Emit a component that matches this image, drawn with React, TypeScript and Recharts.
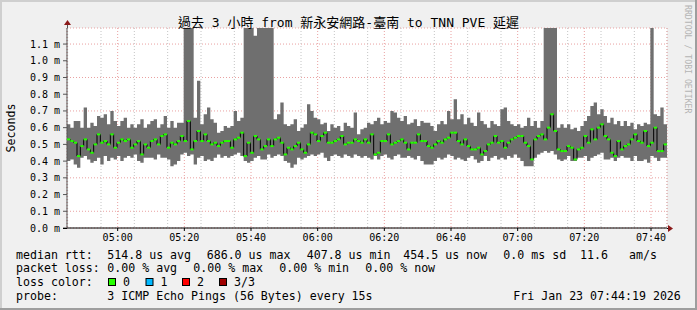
import { ComposedChart, Area, Line, XAxis, YAxis, CartesianGrid } from 'recharts';

// one sample per minute, starting 04:44:48 (minutes since midnight)
const START_MIN = 284.8;
const END_MIN = 464.8;

// median rtt (ms)
const MEDIAN = [
  0.53, 0.52, 0.51, 0.43, 0.49, 0.53, 0.47, 0.45, 0.50, 0.56,
  0.51, 0.52, 0.50, 0.56, 0.48, 0.51, 0.53, 0.52, 0.53, 0.48,
  0.50, 0.52, 0.44, 0.50, 0.48, 0.52, 0.53, 0.50, 0.55, 0.56,
  0.48, 0.51, 0.50, 0.52, 0.55, 0.52, 0.64, 0.47, 0.52, 0.58,
  0.52, 0.56, 0.52, 0.50, 0.51, 0.49, 0.51, 0.52, 0.52, 0.48,
  0.53, 0.54, 0.57, 0.43, 0.51, 0.45, 0.55, 0.53, 0.47, 0.49,
  0.53, 0.49, 0.53, 0.54, 0.51, 0.44, 0.48, 0.47, 0.49, 0.51,
  0.47, 0.45, 0.50, 0.57, 0.56, 0.52, 0.55, 0.57, 0.51, 0.51,
  0.52, 0.53, 0.55, 0.50, 0.51, 0.51, 0.53, 0.52, 0.51, 0.53,
  0.51, 0.56, 0.44, 0.45, 0.52, 0.52, 0.56, 0.50, 0.51, 0.52,
  0.53, 0.51, 0.47, 0.51, 0.51, 0.56, 0.52, 0.52, 0.49, 0.48,
  0.50, 0.52, 0.51, 0.53, 0.54, 0.57, 0.57, 0.52, 0.50, 0.53,
  0.49, 0.47, 0.47, 0.48, 0.44, 0.46, 0.50, 0.51, 0.55, 0.51,
  0.52, 0.48, 0.51, 0.53, 0.54, 0.55, 0.55, 0.51, 0.49, 0.41,
  0.53, 0.55, 0.56, 0.53, 0.60, 0.68, 0.58, 0.47, 0.46, 0.46,
  0.49, 0.48, 0.41, 0.47, 0.48, 0.55, 0.51, 0.59, 0.53, 0.60,
  0.62, 0.55, 0.53, 0.45, 0.43, 0.52, 0.47, 0.49, 0.50, 0.53,
  0.56, 0.52, 0.51, 0.58, 0.49, 0.51, 0.60, 0.46, 0.46, 0.50,
];

// top of the smoke (max ping, ms)
const HIGH = [
  0.62, 0.60, 0.64, 0.64, 0.60, 0.72, 0.60, 0.63, 0.61, 0.67,
  0.66, 0.68, 0.62, 0.70, 0.64, 0.61, 0.64, 0.66, 0.60, 0.62,
  0.60, 0.62, 0.65, 0.60, 0.62, 0.64, 0.65, 0.60, 0.62, 0.67,
  0.60, 0.64, 0.60, 0.63, 0.63, 1.30, 1.30, 1.30, 0.66, 0.88,
  0.62, 0.68, 0.72, 0.65, 0.63, 0.57, 0.58, 0.61, 0.60, 0.61,
  0.70, 0.64, 0.66, 1.30, 1.30, 1.30, 1.15, 1.30, 1.30, 1.30,
  1.30, 1.30, 0.65, 0.68, 0.75, 0.62, 0.61, 0.62, 0.65, 0.58,
  0.60, 0.62, 0.74, 0.70, 0.66, 0.65, 0.62, 0.63, 0.58, 0.62,
  0.60, 0.61, 0.58, 0.63, 0.61, 0.60, 0.69, 0.56, 0.59, 0.60,
  0.63, 0.62, 0.64, 0.66, 0.62, 0.64, 0.63, 0.70, 0.69, 0.66,
  0.64, 0.67, 0.62, 0.63, 0.65, 0.61, 0.64, 0.63, 0.63, 0.61,
  0.58, 0.62, 0.64, 0.62, 0.70, 0.65, 0.77, 0.65, 0.68, 0.62,
  0.66, 0.63, 0.61, 0.69, 0.64, 0.62, 0.60, 0.64, 0.62, 0.61,
  0.71, 0.72, 0.64, 0.62, 0.61, 0.62, 0.60, 0.61, 0.66, 0.61,
  0.64, 0.60, 0.64, 1.30, 1.30, 1.30, 1.30, 0.60, 0.62, 0.60,
  0.62, 0.59, 0.60, 0.58, 0.61, 0.64, 0.67, 0.73, 0.75, 0.68,
  0.71, 0.67, 0.63, 0.66, 0.62, 0.64, 0.61, 0.64, 0.61, 0.63,
  0.59, 0.62, 0.61, 0.63, 0.62, 1.30, 0.68, 0.67, 0.72, 0.62,
];

// bottom of the smoke (min ping, ms)
const LOW = [
  0.40, 0.41, 0.38, 0.36, 0.42, 0.43, 0.41, 0.39, 0.40, 0.42,
  0.38, 0.43, 0.40, 0.42, 0.41, 0.43, 0.40, 0.42, 0.43, 0.42,
  0.44, 0.40, 0.39, 0.42, 0.42, 0.42, 0.41, 0.44, 0.42, 0.42,
  0.41, 0.37, 0.38, 0.40, 0.44, 0.45, 0.43, 0.44, 0.38, 0.42,
  0.43, 0.40, 0.41, 0.40, 0.42, 0.44, 0.42, 0.43, 0.42, 0.43,
  0.44, 0.45, 0.43, 0.40, 0.39, 0.40, 0.42, 0.43, 0.41, 0.41,
  0.44, 0.42, 0.43, 0.44, 0.43, 0.40, 0.39, 0.36, 0.38, 0.42,
  0.41, 0.42, 0.43, 0.44, 0.43, 0.44, 0.45, 0.42, 0.40, 0.43,
  0.44, 0.43, 0.42, 0.44, 0.43, 0.42, 0.44, 0.43, 0.42, 0.43,
  0.42, 0.41, 0.43, 0.41, 0.43, 0.44, 0.42, 0.41, 0.43, 0.44,
  0.42, 0.42, 0.43, 0.42, 0.41, 0.43, 0.40, 0.38, 0.38, 0.38,
  0.40, 0.42, 0.41, 0.42, 0.44, 0.43, 0.41, 0.42, 0.41, 0.40,
  0.42, 0.43, 0.41, 0.39, 0.40, 0.43, 0.40, 0.42, 0.43, 0.41,
  0.42, 0.41, 0.43, 0.42, 0.44, 0.42, 0.40, 0.37, 0.37, 0.37,
  0.42, 0.44, 0.45, 0.46, 0.45, 0.46, 0.44, 0.41, 0.40, 0.41,
  0.43, 0.40, 0.40, 0.42, 0.42, 0.43, 0.40, 0.42, 0.43, 0.44,
  0.45, 0.41, 0.41, 0.42, 0.40, 0.42, 0.43, 0.42, 0.42, 0.40,
  0.43, 0.40, 0.40, 0.41, 0.39, 0.43, 0.42, 0.40, 0.42, 0.42,
];

const TIME_TICKS = [300, 320, 340, 360, 380, 400, 420, 440, 460];
const Y_TICKS = [0, 0.1, 0.2, 0.3, 0.4, 0.5, 0.6, 0.7, 0.8, 0.9, 1.0, 1.1];
const Y_MAX = 1.196;

const TITLE = '過去 3 小時 from 新永安網路-臺南 to TNN PVE 延遲';
const RTT_STATS = ['514.8 us avg', '686.0 us max', '407.8 us min', '454.5 us now', '0.0 ms sd', '11.6', 'am/s'];
const LOSS_STATS = ['0.00 % avg', '0.00 % max', '0.00 % min', '0.00 % now'];
const LOSS_LABELS = ['0', '1', '2', '3/3'];
const LOSS_COLORS = ['#26ff00', '#00b8ff', '#ff0000', '#a00000'];
const PROBE = '3 ICMP Echo Pings (56 Bytes) every 15s';
const STAMP = 'Fri Jan 23 07:44:19 2026';

const minorTicks: number[] = [];
for (let m = 285; m <= 460; m += 5) if (m % 20 !== 0) minorTicks.push(m);

const rows: any[] = MEDIAN.map((m, i) => ({ t: START_MIN + i, smoke: [LOW[i], HIGH[i]], median: m }));
rows.push({ ...rows[rows.length - 1], t: END_MIN, end: true });

const fmtTime = (v: number) => {
  const h = Math.floor(v / 60);
  const m = Math.round(v - h * 60);
  return `${String(h).padStart(2, '0')}:${String(m).padStart(2, '0')}`;
};

const MONO = "'DejaVu Sans Mono', monospace";

const MedianDot = (props: any) => {
  const { cx, cy, payload, index } = props;
  if (payload?.end || cx == null || cy == null) return <g key={index} />;
  return <rect key={index} x={cx} y={cy - 1} width={3.34} height={2} fill="#26ff00" />;
};

export default function App() {
  const t = { fontFamily: MONO, fontSize: 11.6, fill: '#000' };
  const rttX = [107.3, 206.7, 306.7, 403.3, 503.3, 580, 629];
  const lossX = [107.3, 193.3, 279.3, 365.3];
  const boxX = [108, 145.5, 182, 219];

  return (
    <div style={{ position: 'absolute', left: 0, top: 0, width: 697, height: 310, background: '#f0f0f0' }}>
      <div style={{ position: 'absolute', left: 0, top: 0 }}>
        <ComposedChart width={697} height={310} data={rows} margin={{ top: 28, right: 30, bottom: 62, left: 0 }}>
          <CartesianGrid fill="#ffffff" vertical={false} stroke="#e9a0a0" strokeDasharray="1 2" />
          <CartesianGrid xAxisId="minor" horizontal={false} stroke="#c4c4c4" strokeDasharray="1 2" />
          <CartesianGrid horizontal={false} stroke="#e9a0a0" strokeDasharray="1 2" />
          <XAxis
            dataKey="t"
            type="number"
            domain={[START_MIN, END_MIN]}
            allowDataOverflow
            ticks={TIME_TICKS}
            tickFormatter={fmtTime}
            height={20}
            tickSize={3}
            tickMargin={3}
            axisLine={{ stroke: '#000' }}
            tickLine={{ stroke: '#000' }}
            tick={{ fontFamily: MONO, fontSize: 10, fill: '#000' }}
          />
          <XAxis xAxisId="minor" dataKey="t" type="number" domain={[START_MIN, END_MIN]} allowDataOverflow ticks={minorTicks} hide />
          <YAxis
            type="number"
            domain={[0, Y_MAX]}
            allowDataOverflow
            ticks={Y_TICKS}
            tickFormatter={(v: number) => `${v.toFixed(1)} m`}
            width={67}
            tickSize={4}
            tickMargin={3}
            axisLine={{ stroke: '#555' }}
            tickLine={{ stroke: '#555' }}
            tick={{ fontFamily: MONO, fontSize: 10, fill: '#000' }}
          />
          <Area
            dataKey="smoke"
            type="stepAfter"
            stroke="none"
            fill="#6f6f6f"
            fillOpacity={1}
            isAnimationActive={false}
          />
          <Line
            dataKey="median"
            type="stepAfter"
            stroke="#000"
            strokeWidth={1}
            dot={MedianDot}
            activeDot={false}
            isAnimationActive={false}
          />
        </ComposedChart>
      </div>
      <svg width={697} height={310} style={{ position: 'absolute', left: 0, top: 0, pointerEvents: 'none' }}>
        {/* frame */}
        <rect x={0} y={0} width={697} height={2} fill="#cfcfcf" />
        <rect x={0} y={0} width={2} height={310} fill="#cfcfcf" />
        <rect x={0} y={308} width={697} height={2} fill="#9e9e9e" />
        <rect x={695} y={0} width={2} height={310} fill="#9e9e9e" />

        {/* axis extensions and arrows */}
        <line x1={67.5} y1={22} x2={67.5} y2={28} stroke="#555" />
        <polygon points="64,25 71,25 67.5,20" fill="#8b1a1a" />
        <line x1={63} y1={228.5} x2={67} y2={228.5} stroke="#000" />
        <line x1={667} y1={228.5} x2={669} y2={228.5} stroke="#000" />
        <polygon points="668,225 668,232 673,228.5" fill="#8b1a1a" />

        <text x={348.5} y={26.5} textAnchor="middle" style={{ fontFamily: "'DejaVu Sans Mono', 'Noto Sans CJK TC', monospace", fontSize: 13 }} fill="#000">
          {TITLE}
        </text>
        <text x={15} y={128} textAnchor="middle" transform="rotate(-90 15 128)" style={{ fontFamily: MONO, fontSize: 11.6 }} fill="#000">
          Seconds
        </text>
        <text x={685} y={5} transform="rotate(90 685 5)" style={{ fontFamily: MONO, fontSize: 8.2 }} fill="#b4b4b4">
          RRDTOOL / TOBI OETIKER
        </text>

        <text x={16} y={258.5} style={t}>median rtt:</text>
        {RTT_STATS.map((s, i) => (
          <text key={s} x={rttX[i]} y={258.5} style={t}>{s}</text>
        ))}
        <text x={16} y={272} style={t}>packet loss:</text>
        {LOSS_STATS.map((s, i) => (
          <text key={i} x={lossX[i]} y={272} style={t}>{s}</text>
        ))}
        <text x={16} y={285.8} style={t}>loss color:</text>
        {LOSS_LABELS.map((s, i) => (
          <g key={s}>
            <rect x={boxX[i] + 0.5} y={278.5} width={7} height={7} fill={LOSS_COLORS[i]} stroke="#000" />
            <text x={boxX[i] + 15} y={285.8} style={t}>{s}</text>
          </g>
        ))}
        <text x={16} y={299.5} style={t}>probe:</text>
        <text x={107.3} y={299.5} style={t}>{PROBE}</text>
        <text x={513.3} y={299.5} style={t}>{STAMP}</text>
      </svg>
    </div>
  );
}
